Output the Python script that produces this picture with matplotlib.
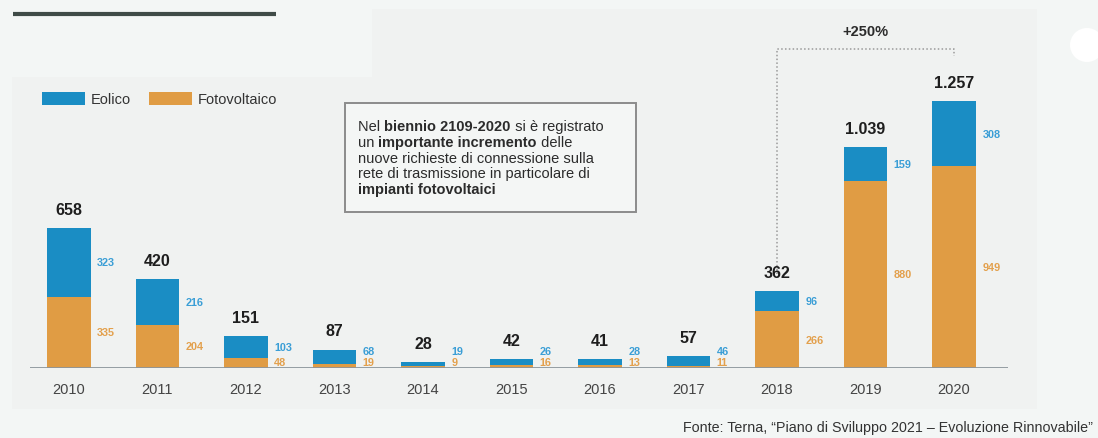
import numpy as np
import matplotlib.pyplot as plt
from matplotlib.patches import Rectangle, Polygon, Circle

plt.rcParams['font.family'] = ['Liberation Sans', 'DejaVu Sans']

anni = ['2010', '2011', '2012', '2013', '2014', '2015', '2016', '2017', '2018', '2019', '2020']
fotovoltaico = [335, 204, 48, 19, 9, 16, 13, 11, 266, 880, 949]
eolico = [323, 216, 103, 68, 19, 26, 28, 46, 96, 159, 308]
totali = ['658', '420', '151', '87', '28', '42', '41', '57', '362', '1.039', '1.257']

BLU = '#1a8dc4'
ARANCIO = '#e09c44'
BLU_TXT = '#3a9ed6'
ARANCIO_TXT = '#e3a04c'
SFONDO = '#f3f6f5'
PANNELLO = '#f0f2f1'

W, H = 1098, 439
fig = plt.figure(figsize=(W / 100, H / 100), dpi=100, facecolor=SFONDO)

# background panel and decorations in pixel coordinates
bg = fig.add_axes([0, 0, 1, 1])
bg.set_xlim(0, W)
bg.set_ylim(H, 0)
bg.axis('off')
bg.add_patch(Polygon([(12, 78), (372, 78), (372, 10), (1037, 10), (1037, 410), (12, 410)],
                     closed=True, facecolor=PANNELLO, edgecolor='none'))
bg.add_patch(Circle((1087, 46), 17, facecolor='white', edgecolor='none'))
bg.plot([13, 276], [15, 15], color='#3f4b47', lw=3, solid_capstyle='butt')

# legend
bg.add_patch(Rectangle((42, 93), 43, 13, facecolor=BLU, edgecolor='none'))
bg.text(91, 100, 'Eolico', fontsize=10.5, color='#333333', va='center')
bg.add_patch(Rectangle((149, 93), 43, 13, facecolor=ARANCIO, edgecolor='none'))
bg.text(198, 100, 'Fotovoltaico', fontsize=10.5, color='#333333', va='center')

# text box with mixed bold runs
bg.add_patch(Rectangle((345, 104), 291, 109, facecolor='#f4f6f5', edgecolor='#8c8c8c', lw=1.4))
righe = [
    [('Nel ', 'normal'), ('biennio 2109-2020', 'bold'), (' si è registrato', 'normal')],
    [('un ', 'normal'), ('importante incremento', 'bold'), (' delle', 'normal')],
    [('nuove richieste di connessione sulla', 'normal')],
    [('rete di trasmissione in particolare di', 'normal')],
    [('impianti fotovoltaici', 'bold')],
]
for k, riga in enumerate(righe):
    y = 127 + k * 15.8
    prev = None
    for testo, peso in riga:
        if prev is None:
            prev = bg.text(358, y, testo, fontsize=10.5, fontweight=peso,
                           color='#2b2b2b', va='center')
        else:
            prev = bg.annotate(testo, xy=(1, 0), xycoords=prev, va='bottom',
                               fontsize=10.5, fontweight=peso, color='#2b2b2b')

# growth bracket between 2018 and 2020
bg.plot([777, 777, 954, 954], [275, 50, 50, 57], color='#9a9a9a', lw=1.1,
        linestyle=(0, (1, 1.5)))
bg.text(865, 32, '+250%', fontsize=10.5, fontweight='bold', color='#2b2b2b',
        ha='center', va='center')

bg.text(1093, 428, 'Fonte: Terna, “Piano di Sviluppo 2021 – Evoluzione Rinnovabile”',
        fontsize=10.3, color='#333333', ha='right', va='center')

# bar chart
x = np.arange(len(anni))
ax = fig.add_axes([30 / W, (H - 369) / H, 978 / W, 309 / H])
ax.set_facecolor('none')
ax.set_xlim(-0.44, 10.61)
ax.set_ylim(0, 1454)

fv = np.array(fotovoltaico)
eo = np.array(eolico)
ax.bar(x, fv, width=0.49, color=ARANCIO, zorder=2)
ax.bar(x, eo, width=0.49, bottom=fv, color=BLU, zorder=2)

for i in x:
    y_fv = max(fv[i] / 2, 28)
    y_eo = max(fv[i] + eo[i] / 2, y_fv + 50)
    ax.text(i + 0.32, y_fv, str(fv[i]), fontsize=7.8, fontweight='bold',
            color=ARANCIO_TXT, va='center', ha='left')
    ax.text(i + 0.32, y_eo, str(eo[i]), fontsize=7.8, fontweight='bold',
            color=BLU_TXT, va='center', ha='left')
    ax.annotate(totali[i], xy=(i, fv[i] + eo[i]), xytext=(0, 8),
                textcoords='offset points', ha='center', va='bottom',
                fontsize=11.5, fontweight='bold', color='#1e1e1e')

ax.axhline(0, color='#8c959b', lw=2, zorder=3)
ax.set_xticks(x)
ax.set_xticklabels(anni, fontsize=10.5, color='#444444')
ax.tick_params(axis='x', length=0, pad=10)
ax.set_yticks([])
for s in ax.spines.values():
    s.set_visible(False)

fig.savefig('out.png', dpi=100, facecolor=SFONDO)
